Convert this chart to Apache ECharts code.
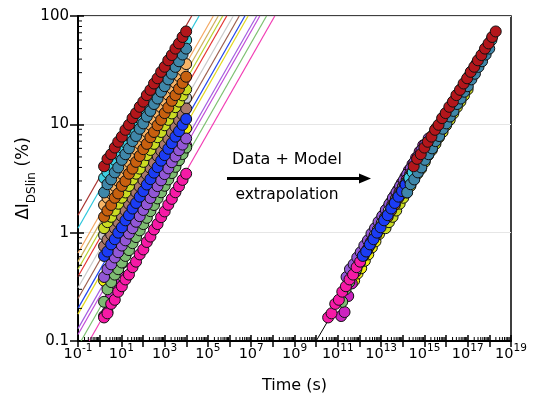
<!DOCTYPE html>
<html>
<head>
<meta charset="utf-8">
<script src="https://cdn.jsdelivr.net/npm/echarts@6/dist/echarts.min.js"></script>
<style>
  html, body { margin: 0; padding: 0; background: #fff; }
  #chart { width: 538px; height: 402px; }
</style>
</head>
<body>
<div id="chart"></div>
<script>
// Measurement times (s), shared by every stress condition
const times = [1.6, 2.3, 3.4, 5, 7.2, 10.6, 15.5, 22.6, 33, 48, 71, 104, 151, 221, 324, 473, 692, 1010, 1480, 2160, 3160, 4620, 6760, 9890];

// Measured degradation ΔI_DSlin (%) for each condition
const yDarkRed     = [4.1, 4.8, 5.3, 6.1, 6.9, 7.7, 8.9, 9.9, 11.4, 12.7, 14.5, 16.2, 18.6, 20.8, 23.8, 26.6, 30.5, 34.0, 39.0, 43.6, 50.0, 55.8, 64.0, 72.0];
const yCyan        = [3.2, 3.6, 4.2, 4.7, 5.3, 6.1, 6.8, 7.9, 8.8, 10.1, 11.4, 13.1, 14.7, 16.9, 19.0, 21.8, 24.5, 28.1, 31.6, 36.2, 40.8, 46.7, 52.6, 60.0];
const ySteelBlue   = [2.35, 2.8, 3.1, 3.6, 4.0, 4.7, 5.3, 6.0, 7.0, 7.8, 9.1, 10.2, 11.8, 13.3, 15.4, 17.3, 20.0, 22.5, 26.0, 29.3, 33.9, 38.2, 44.1, 50.0];
const yLightOrange = [1.8, 2.1, 2.3, 2.7, 3.0, 3.5, 3.9, 4.5, 5.1, 5.9, 6.6, 7.6, 8.5, 9.9, 11.1, 12.8, 14.4, 16.6, 18.7, 21.5, 24.2, 27.9, 31.5, 36.0];
const yOrange      = [1.4, 1.6, 1.8, 2.1, 2.3, 2.7, 3.0, 3.5, 3.9, 4.5, 5.1, 5.9, 6.6, 7.6, 8.5, 9.8, 11.0, 12.7, 14.3, 16.5, 18.6, 21.3, 24.1, 27.5];
const yYellowGreen = [1.1, 1.25, 1.4, 1.6, 1.85, 2.1, 2.35, 2.7, 3.1, 3.5, 3.9, 4.5, 5.2, 5.8, 6.6, 7.6, 8.5, 9.8, 11.0, 12.6, 14.4, 16.2, 18.5, 21.0];
const yGray        = [0.95, 1.07, 1.23, 1.38, 1.6, 1.78, 2.05, 2.3, 2.64, 2.95, 3.4, 3.8, 4.4, 4.9, 5.6, 6.4, 7.2, 8.2, 9.3, 10.6, 11.9, 13.6, 15.4, 17.5];
const yMauve       = [0.75, 0.86, 0.96, 1.1, 1.25, 1.42, 1.6, 1.84, 2.07, 2.37, 2.66, 3.06, 3.44, 3.95, 4.43, 5.1, 5.7, 6.55, 7.4, 8.45, 9.5, 10.9, 12.3, 14.0];
const yBlue        = [0.61, 0.67, 0.78, 0.87, 1.0, 1.12, 1.3, 1.45, 1.67, 1.88, 2.15, 2.42, 2.78, 3.12, 3.58, 4.03, 4.62, 5.2, 5.95, 6.7, 7.7, 8.65, 9.9, 11.2];
const yYellow      = [0.36, 0.42, 0.47, 0.55, 0.63, 0.73, 0.83, 0.97, 1.1, 1.28, 1.46, 1.7, 1.94, 2.25, 2.57, 2.97, 3.4, 3.93, 4.5, 5.22, 5.97, 6.9, 7.9, 9.2];
const yPurple      = [0.39, 0.46, 0.51, 0.59, 0.66, 0.76, 0.85, 0.98, 1.1, 1.26, 1.42, 1.62, 1.83, 2.09, 2.36, 2.69, 3.04, 3.47, 3.92, 4.47, 5.05, 5.76, 6.5, 7.4];
const yMagenta     = [0.17, 0.185, 0.26, 0.34, 0.43, 0.52, 0.62, 0.73, 0.85, 0.98, 1.12, 1.28, 1.47, 1.68, 1.92, 2.2, 2.5, 2.87, 3.27, 3.76, 4.28, 4.9, 5.6, 6.4];
const yGreen       = [0.23, 0.3, 0.35, 0.41, 0.46, 0.53, 0.61, 0.69, 0.8, 0.91, 1.05, 1.2, 1.37, 1.58, 1.8, 2.07, 2.36, 2.71, 3.1, 3.55, 4.05, 4.66, 5.32, 6.1];
const yPink        = [0.165, 0.18, 0.22, 0.24, 0.285, 0.32, 0.37, 0.41, 0.48, 0.54, 0.63, 0.7, 0.82, 0.92, 1.07, 1.2, 1.39, 1.57, 1.81, 2.05, 2.36, 2.68, 3.07, 3.5];

// Acceleration factor of each condition onto the use condition (log10 of the time shift)
const accelDecades = {
  darkRed: 14.3, cyan: 14.1, steelBlue: 14.0, lightOrange: 13.4, orange: 13.1,
  yellowGreen: 13.0, gray: 12.5, mauve: 12.25, blue: 11.95, yellow: 11.55,
  purple: 11.2, magenta: 10.95, green: 11.0, pink: 10.35
};

// Power-law fit lines of the individual conditions: [time, ΔI] at both ends
const fitStart = [[0.1, 1.45], [0.1, 1.10], [0.1, 0.65], [0.1, 0.54], [0.1, 0.46], [0.1, 0.394], [0.1, 0.31],
                  [0.1, 0.247], [0.1, 0.20], [0.1, 0.177], [0.1, 0.13], [0.1, 0.115], [0.138, 0.1], [0.33, 0.1]];
const fitEnd   = [[1.78e4, 100], [3.9e4, 100], [1.78e5, 100], [3.0e5, 100], [4.8e5, 100], [7.4e5, 100], [1.48e6, 100],
                  [2.8e6, 100], [5.1e6, 100], [7.2e6, 100], [1.78e7, 100], [2.5e7, 100], [5.1e7, 100], [1.23e8, 100]];
const fitColors = ['#a8302c', '#2cc6dc', '#f4a862', '#cfae5c', '#b8d12e', '#e43434', '#c9c9c9',
                   '#9b5e4e', '#2244ee', '#e2d81c', '#a45ee0', '#c04cd8', '#7cc070', '#f23db4'];

// Master curve of the extrapolated model
const masterLine = [[1e10, 0.1], [2e18, 70]];

// Axis ranges
const xRange = [1e-1, 1e19];
const yRange = [0.1, 100];

// Draw order (later entries sit on top)
const pointSets = [
  { key: 'yellow',      data: yYellow,      color: '#f1ee12' },
  { key: 'magenta',     data: yMagenta,     color: '#cc22c0' },
  { key: 'green',       data: yGreen,       color: '#7dbb72' },
  { key: 'purple',      data: yPurple,      color: '#9257d6' },
  { key: 'pink',        data: yPink,        color: '#f61aa6' },
  { key: 'gray',        data: yGray,        color: '#cbcbcb' },
  { key: 'mauve',       data: yMauve,       color: '#a9786b' },
  { key: 'yellowGreen', data: yYellowGreen, color: '#cadc22' },
  { key: 'lightOrange', data: yLightOrange, color: '#f7b366' },
  { key: 'orange',      data: yOrange,      color: '#c7600f' },
  { key: 'blue',        data: yBlue,        color: '#1b3cf5' },
  { key: 'cyan',        data: yCyan,        color: '#3ecfe2' },
  { key: 'steelBlue',   data: ySteelBlue,   color: '#3f87a9' },
  { key: 'darkRed',     data: yDarkRed,     color: '#b3161b' }
];

const FONT = '"DejaVu Sans", Verdana, sans-serif';

// Log minor ticks (2..9 within each decade) for both axes
function minorValues(lo, hi) {
  const out = [];
  for (let e = Math.round(Math.log10(lo)); e < Math.round(Math.log10(hi)); e++) {
    for (let m = 2; m <= 9; m++) out.push(m * Math.pow(10, e));
  }
  return out;
}
const minorX = minorValues(xRange[0], xRange[1]);
const minorY = minorValues(yRange[0], yRange[1]);

const series = [];
fitStart.forEach(function (p, i) {
  series.push({
    type: 'line', xAxisIndex: 0, yAxisIndex: 0, z: 1,
    data: [p, fitEnd[i]], showSymbol: false, silent: true,
    lineStyle: { color: fitColors[i], width: 1.2 }
  });
});
series.push({
  type: 'line', xAxisIndex: 0, yAxisIndex: 0, z: 1,
  data: masterLine, showSymbol: false, silent: true,
  lineStyle: { color: '#000', width: 1 }
});
pointSets.forEach(function (s) {
  const shift = Math.pow(10, accelDecades[s.key]);
  const measured = times.map(function (t, k) { return [t, s.data[k]]; });
  const extrapolated = times.map(function (t, k) { return [t * shift, s.data[k]]; });
  series.push({
    type: 'scatter', xAxisIndex: 0, yAxisIndex: 0, z: 3,
    data: measured.concat(extrapolated),
    symbol: 'circle', symbolSize: 11,
    itemStyle: { color: s.color, borderColor: '#111', borderWidth: 1, opacity: 1 }
  });
});
// minor ticks on the bottom axis, pointing inwards
series.push({
  type: 'custom', xAxisIndex: 0, yAxisIndex: 0, z: 6, silent: true, clip: false,
  data: minorX.map(function (v) { return [v, yRange[0]]; }),
  renderItem: function (params, api) {
    const p = api.coord([api.value(0), api.value(1)]);
    return { type: 'line', shape: { x1: p[0], y1: p[1], x2: p[0], y2: p[1] - 4 }, style: { stroke: '#000', lineWidth: 1 } };
  }
});
// minor ticks on the left axis, pointing inwards
series.push({
  type: 'custom', xAxisIndex: 0, yAxisIndex: 0, z: 6, silent: true, clip: false,
  data: minorY.map(function (v) { return [xRange[0], v]; }),
  renderItem: function (params, api) {
    const p = api.coord([api.value(0), api.value(1)]);
    return { type: 'line', shape: { x1: p[0], y1: p[1], x2: p[0] + 4, y2: p[1] }, style: { stroke: '#000', lineWidth: 1 } };
  }
});

function xLabel(v) {
  const e = Math.round(Math.log10(v));
  if ((e + 1) % 2 !== 0) return '';
  return '{b|10}{e|' + e + '}';
}

const option = {
  animation: false,
  backgroundColor: '#fff',
  grid: {
    left: 78, right: 27, top: 16, bottom: 61,
    show: true, borderColor: '#000', borderWidth: 1.5,
    backgroundColor: 'transparent', outerBoundsMode: 'none'
  },
  xAxis: [
    {
      type: 'log', logBase: 10, min: xRange[0], max: xRange[1], interval: 1, position: 'bottom',
      axisLine: { show: true, lineStyle: { color: '#000', width: 2 } },
      axisTick: { show: true, inside: true, length: 6, lineStyle: { color: '#000', width: 1.5 } },
      axisLabel: { show: false },
      splitLine: { show: false }
    },
    {
      type: 'log', logBase: 10, min: xRange[0], max: xRange[1], interval: 1, position: 'bottom',
      axisLine: { show: false },
      axisTick: { show: true, inside: false, length: 6, lineStyle: { color: '#000', width: 1.5 } },
      splitLine: { show: false },
      axisLabel: {
        show: true, margin: 2, formatter: xLabel, color: '#000',
        showMinLabel: true, showMaxLabel: true, hideOverlap: false,
        rich: {
          b: { fontFamily: FONT, fontSize: 14.5, color: '#000', lineHeight: 19, verticalAlign: 'bottom' },
          e: { fontFamily: FONT, fontSize: 10.5, color: '#000', lineHeight: 19, verticalAlign: 'top' }
        }
      },
      name: 'Time (s)', nameLocation: 'middle', nameGap: 37, nameMoveOverlap: false,
      nameTextStyle: { fontFamily: FONT, fontSize: 16, color: '#000' }
    }
  ],
  yAxis: [
    {
      type: 'log', logBase: 10, min: yRange[0], max: yRange[1], interval: 1, position: 'left',
      axisLine: { show: true, lineStyle: { color: '#000', width: 2 } },
      axisTick: { show: true, inside: true, length: 6, lineStyle: { color: '#000', width: 1.5 } },
      axisLabel: { show: false },
      splitLine: { show: true, lineStyle: { color: '#e6e6e6', width: 1 } }
    },
    {
      type: 'log', logBase: 10, min: yRange[0], max: yRange[1], interval: 1, position: 'left',
      axisLine: { show: false },
      axisTick: { show: true, inside: false, length: 8, lineStyle: { color: '#000', width: 1.5 } },
      splitLine: { show: false },
      axisLabel: {
        show: true, margin: 9, color: '#000', fontFamily: FONT, fontSize: 15,
        formatter: function (v) { return v < 1 ? '0.1' : String(Math.round(v)); }
      },
      name: '{a|ΔI}{s|DSlin}{a| (%)}', nameLocation: 'middle', nameRotate: 90, nameGap: 40,
      nameMoveOverlap: false,
      nameTextStyle: {
        fontFamily: FONT, color: '#000',
        rich: {
          a: { fontFamily: FONT, fontSize: 17, color: '#000', lineHeight: 23, verticalAlign: 'top' },
          s: { fontFamily: FONT, fontSize: 12, color: '#000', lineHeight: 23, verticalAlign: 'bottom' }
        }
      }
    }
  ],
  graphic: [
    { type: 'text', z: 10, style: { text: 'Data + Model', x: 287, y: 160, align: 'center', verticalAlign: 'middle', font: '16px ' + FONT, fill: '#000' } },
    { type: 'line', z: 10, shape: { x1: 227, y1: 178.5, x2: 362, y2: 178.5 }, style: { stroke: '#000', lineWidth: 3 } },
    { type: 'polygon', z: 10, shape: { points: [[359, 173.5], [371, 178.5], [359, 183.5]] }, style: { fill: '#000' } },
    { type: 'text', z: 10, style: { text: 'extrapolation', x: 287, y: 195, align: 'center', verticalAlign: 'middle', font: '15.5px ' + FONT, fill: '#000' } }
  ],
  series: series
};

const chart = echarts.init(document.getElementById('chart'), null, { renderer: 'canvas' });
chart.setOption(option);
</script>
</body>
</html>
